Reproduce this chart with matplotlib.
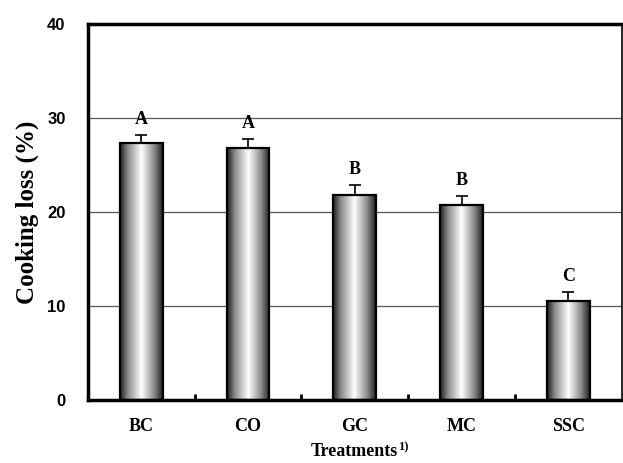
import numpy as np
import matplotlib
matplotlib.use('Agg')
import matplotlib.pyplot as plt
from matplotlib.colors import LinearSegmentedColormap

# data
treatments = ['BC', 'CO', 'GC', 'MC', 'SSC']
cooking_loss = [27.3, 26.8, 21.8, 20.7, 10.5]
std_err = [0.9, 1.0, 1.1, 1.0, 1.0]
letters = ['A', 'A', 'B', 'B', 'C']

serif = ['Liberation Serif', 'DejaVu Serif']
sans = ['Liberation Sans', 'DejaVu Sans']

fig = plt.figure(figsize=(6.23, 4.63), dpi=100)
ax = fig.add_axes([0.141, 0.136, 0.857, 0.812])

x = np.arange(len(treatments))
bar_w = 0.4

# cylinder-like shading: dark edges, white middle
shade = LinearSegmentedColormap.from_list(
    'cyl', [(0, '#1e1e1e'), (0.18, '#8a8a8a'), (0.5, '#ffffff'),
            (0.8, '#8a8a8a'), (1, '#1e1e1e')])
grad = np.linspace(0, 1, 256).reshape(1, -1)

bars = ax.bar(x, cooking_loss, width=bar_w, facecolor='none',
              edgecolor='black', linewidth=1.6, zorder=3)
for b in bars:
    x0, y0 = b.get_x(), b.get_y()
    im = ax.imshow(grad, cmap=shade, aspect='auto', zorder=2.5,
                   extent=[x0, x0 + b.get_width(), y0, y0 + b.get_height()])
    im.set_clip_path(b)

ax.errorbar(x, cooking_loss, yerr=[[0] * len(x), std_err], fmt='none',
            ecolor='black', elinewidth=1.2, capsize=4, capthick=1.2, zorder=4)

for xi, v, e, lab in zip(x, cooking_loss, std_err, letters):
    ax.text(xi, v + e + 0.7, lab, ha='center', va='bottom',
            fontsize=13, fontweight='bold', family=serif)

ax.set_xlim(-0.5, len(x) - 0.5)
ax.set_ylim(0, 40)
ax.set_yticks([0, 10, 20, 30, 40])
ax.yaxis.grid(True, color='#555555', linewidth=0.9)
ax.set_axisbelow(True)

ax.set_xticks(x)
ax.set_xticklabels(treatments, fontsize=13, fontweight='bold', family=serif)
ax.set_xticks(np.arange(0.5, len(x) - 1, 1), minor=True)
ax.tick_params(axis='x', which='major', length=0, pad=13)
ax.tick_params(axis='x', which='minor', direction='in', length=4, width=2)
ax.tick_params(axis='y', length=0, pad=16)
for t in ax.get_yticklabels():
    t.set_fontsize(12)
    t.set_fontweight('bold')
    t.set_family(sans)

for side in ['left', 'bottom', 'top']:
    ax.spines[side].set_linewidth(2.5)
ax.spines['right'].set_linewidth(1.2)

ax.set_ylabel('Cooking loss (%)', fontsize=18, fontweight='bold',
              family=serif, labelpad=6)
xl = ax.set_xlabel('Treatments', fontsize=13, fontweight='bold',
                   family=serif, labelpad=6)

# superscript footnote mark after the x label
fig.canvas.draw()
bb = xl.get_window_extent().transformed(fig.transFigure.inverted())
fig.text(bb.x1, bb.y1 + 0.004, '1)', fontsize=9, fontweight='bold',
         family=serif, ha='left', va='top')

fig.savefig('out.png', dpi=100)
